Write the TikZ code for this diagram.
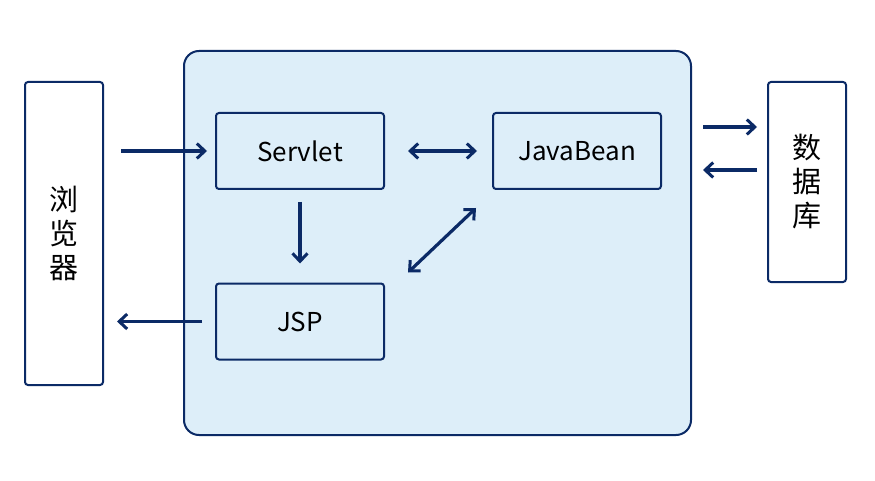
\documentclass[tikz,border=0pt]{standalone}
\usepackage{fontspec}
\setmainfont{Noto Sans CJK SC}
\usetikzlibrary{arrows.meta}
\definecolor{navy}{HTML}{0B2A66}
\definecolor{panel}{HTML}{DDEEF9}
\tikzset{tip/.tip={Straight Barb[length=8pt,width=15pt,line width=3pt]}}
\begin{document}
\begin{tikzpicture}[x=1pt,y=-1pt,
  box/.style={draw=navy,line width=2pt,rounded corners=3pt,inner sep=0pt},
  comp/.style={box,fill=panel,minimum width=168pt,minimum height=76pt,font=\fontsize{26}{30}\selectfont},
  side/.style={box,fill=white,minimum width=78pt,font=\fontsize{29}{34}\selectfont,align=center},
  link/.style={draw=navy,line width=3.2pt,-tip},
  link2/.style={link,tip-tip}]
\useasboundingbox (0,0) rectangle (875,481);
\fill[white] (0,0) rectangle (875,481);
% application container
\node[box,fill=panel,rounded corners=15pt,minimum width=507pt,minimum height=384pt] (app) at (437.5,243) {};
% components
\node[comp] (servlet) at (300,151) {Servlet};
\node[comp] (bean) at (577,151) {JavaBean};
\node[comp] (jsp) at (300,321.5) {JSP};
% browser and database
\node[side,minimum height=303pt] (browser) at (64,233.5) {浏\\览\\器};
\node[side,minimum height=200pt] (db) at (807,182) {数\\据\\库};
% connectors
\coordinate (b1) at (121,151);
\coordinate (b2) at (117,321.5);
\coordinate (d1) at (703,127);
\coordinate (d2) at (757,127);
\coordinate (d3) at (757,170);
\coordinate (d4) at (703,170);
\draw[link] (b1) -- ([xshift=-8pt]servlet.west);
\draw[link2] ([xshift=23pt]servlet.east) -- ([xshift=-15pt]bean.west);
\draw[link] ([yshift=-12pt]servlet.south) -- ([yshift=19pt]jsp.north);
\draw[link2] ([shift={(23pt,10pt)}]jsp.north east) -- ([shift={(-16pt,-18pt)}]bean.south west);
\draw[link] ([xshift=-13pt]jsp.west) -- (b2);
\draw[link] (d1) -- (d2);
\draw[link] (d3) -- (d4);
\end{tikzpicture}
\end{document}
